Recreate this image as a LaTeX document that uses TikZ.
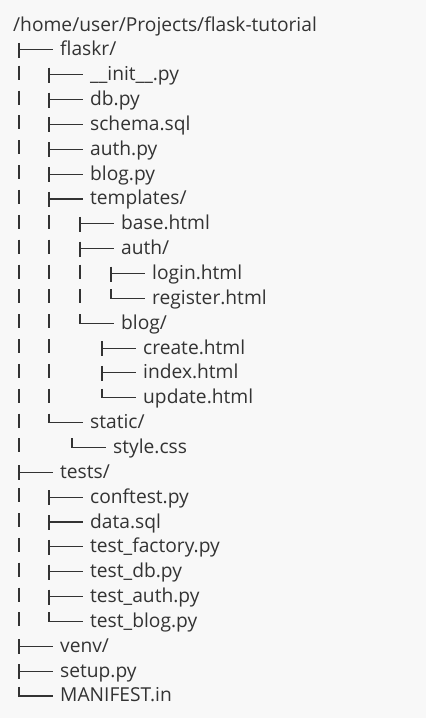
\documentclass[tikz,border=0pt]{standalone}
\usepackage{fontspec}
\setmainfont{Open Sans}

\definecolor{paper}{HTML}{F8F8F8}
\definecolor{ink}{HTML}{333333}

\tikzset{
  entry/.style={anchor=west, inner sep=0pt, text=ink, text height=13pt, text depth=1pt,
    font=\fontsize{19.2}{22}\selectfont},
  glyph/.style={draw=ink, line width=1.1pt}
}

% tree glyphs, hung off the west side of an entry
\newcommand{\branch}[1]{\draw[glyph] ([shift={(-41pt,7pt)}]#1.west) -- ++(0,-15)
  ([xshift=-41pt]#1.west) -- ++(34,0);}
\newcommand{\lastbranch}[1]{\draw[glyph] ([shift={(-41pt,9pt)}]#1.west) |- ++(34,-9);}
\newcommand{\treebar}[2]{\draw[glyph] ([yshift=9pt]#1 |- #2.west) -- ++(0,-14);}

\begin{document}
\begin{tikzpicture}[x=1pt, y=1pt]
  % Background
  \fill[paper] (0,0) rectangle (426,-718);

  % Columns of the vertical bars
  \coordinate (c1) at (19,0);
  \coordinate (c2) at (49,0);
  \coordinate (c3) at (80,0);

  % Root
  \node[entry] (root) at (13,-25) {/home/user/Projects/flask-tutorial};

  % flaskr package
  \node[entry] (flaskr)    at (60,-49.85)  {flaskr/};
  \node[entry] (init)      at (90,-74.7)   {\_\_init\_\_.py};
  \node[entry] (db)        at (90,-99.55)  {db.py};
  \node[entry] (schema)    at (90,-124.4)  {schema.sql};
  \node[entry] (authpy)    at (90,-149.25) {auth.py};
  \node[entry] (blogpy)    at (90,-174.1)  {blog.py};
  \node[entry] (templates) at (90,-198.95) {templates/};
  \node[entry] (base)      at (121,-223.8) {base.html};
  \node[entry] (auth)      at (121,-248.65) {auth/};
  \node[entry] (login)     at (152,-273.5) {login.html};
  \node[entry] (register)  at (152,-298.35) {register.html};
  \node[entry] (blog)      at (121,-323.2) {blog/};
  \node[entry] (create)    at (143,-348.05) {create.html};
  \node[entry] (index)     at (143,-372.9) {index.html};
  \node[entry] (update)    at (143,-397.75) {update.html};
  \node[entry] (static)    at (90,-422.6)  {static/};
  \node[entry] (style)     at (113,-447.45) {style.css};

  % tests
  \node[entry] (tests)     at (60,-472.3)  {tests/};
  \node[entry] (conftest)  at (90,-497.15) {conftest.py};
  \node[entry] (data)      at (90,-522)    {data.sql};
  \node[entry] (tfactory)  at (90,-546.85) {test\_factory.py};
  \node[entry] (tdb)       at (90,-571.7)  {test\_db.py};
  \node[entry] (tauth)     at (90,-596.55) {test\_auth.py};
  \node[entry] (tblog)     at (90,-621.4)  {test\_blog.py};

  % top level leftovers
  \node[entry] (venv)      at (60,-646.25) {venv/};
  \node[entry] (setup)     at (60,-671.1)  {setup.py};
  \node[entry] (manifest)  at (60,-695.95) {MANIFEST.in};

  % Branches
  \foreach \n in {flaskr,init,db,schema,authpy,blogpy,templates,base,auth,login,
                  create,index,tests,conftest,data,tfactory,tdb,tauth,venv,setup}
    {\branch{\n}}
  \foreach \n in {register,blog,update,static,style,tblog,manifest}
    {\lastbranch{\n}}

  % Vertical bars
  \foreach \n in {init,db,schema,authpy,blogpy,templates,base,auth,login,register,
                  blog,create,index,update,static,style,
                  conftest,data,tfactory,tdb,tauth,tblog}
    {\treebar{c1}{\n}}
  \foreach \n in {base,auth,login,register,blog,create,index,update}
    {\treebar{c2}{\n}}
  \treebar{c3}{login}
  \treebar{c3}{register}
\end{tikzpicture}
\end{document}
